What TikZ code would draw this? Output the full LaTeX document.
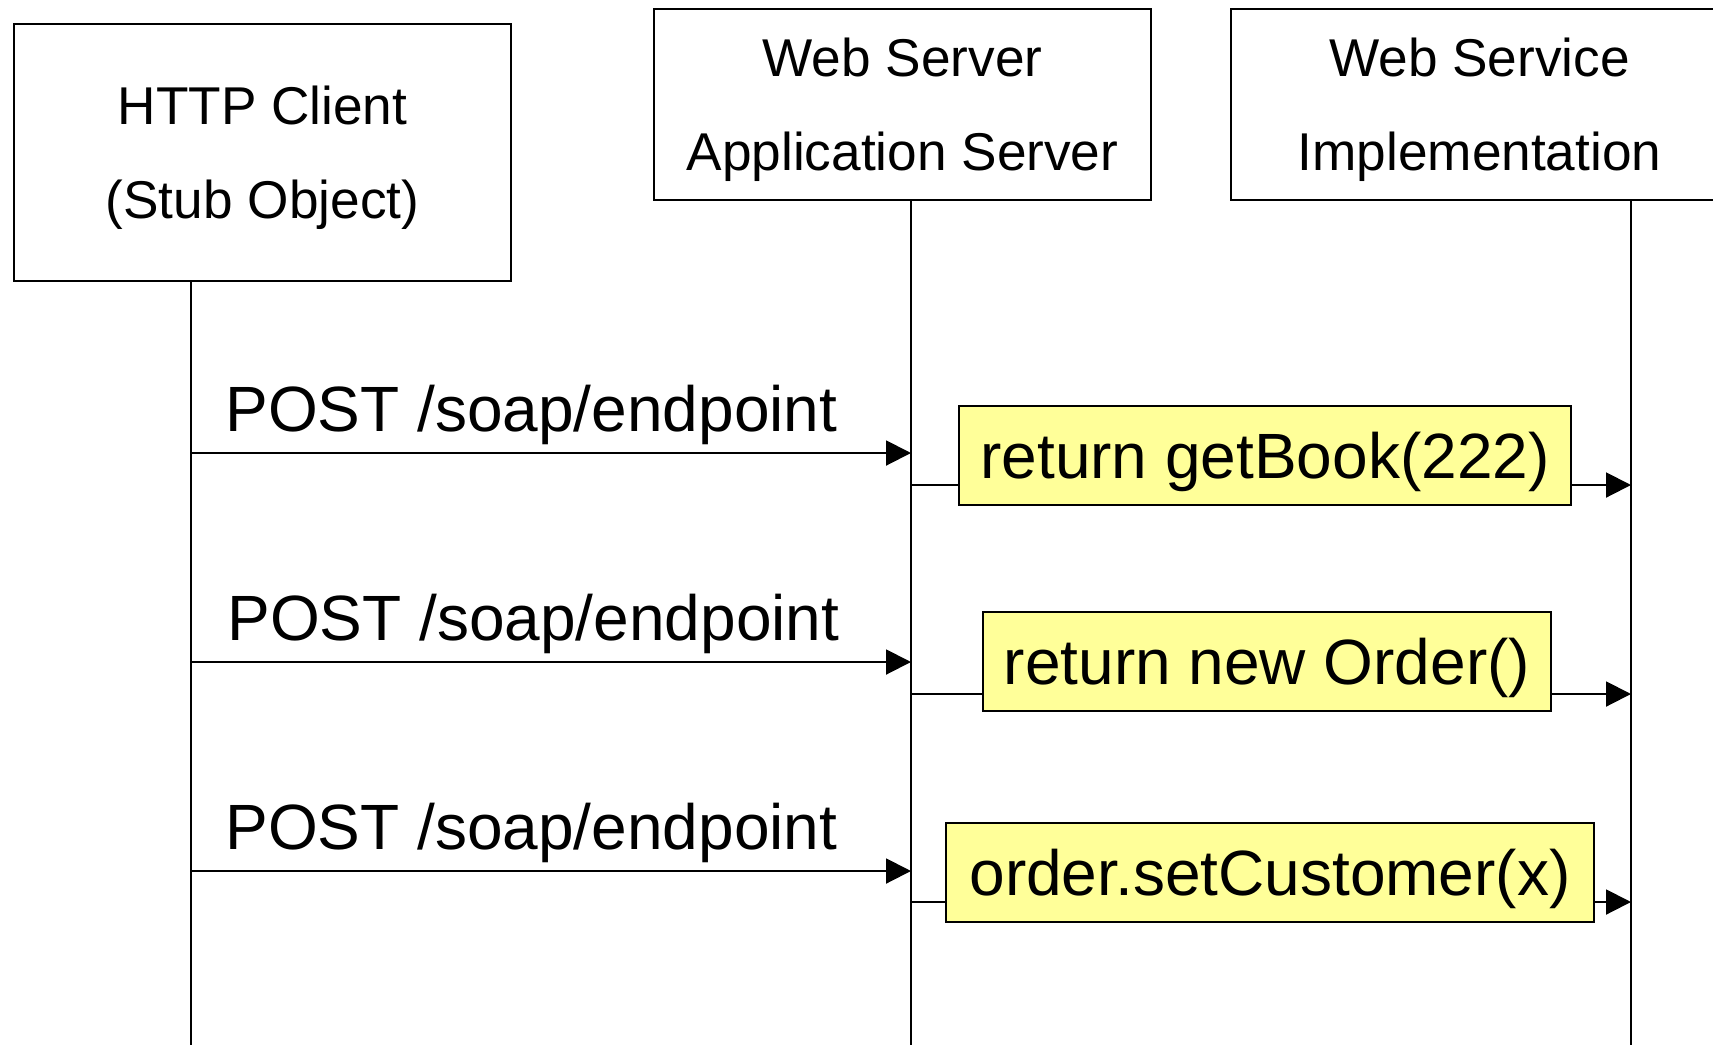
\documentclass[tikz,border=0pt]{standalone}
\usepackage{fontspec}
\setmainfont{Liberation Sans}
\usetikzlibrary{arrows.meta}
\definecolor{notefill}{HTML}{FFFF99}
\begin{document}
\begin{tikzpicture}[x=0.5pt,y=-0.5pt,
  actor/.style={draw, line width=1pt, fill=white, minimum width=248.5pt,
    align=center, inner sep=0pt, text depth=0pt, font=\fontsize{26.6}{47}\selectfont},
  lifeline/.style={line width=1pt},
  msg/.style={line width=1pt, -{Triangle[length=12.5pt,width=12.5pt]}},
  msglabel/.style={anchor=base west, inner sep=0pt, font=\fontsize{32}{38}\selectfont},
  note/.style={draw, line width=1pt, fill=notefill, inner sep=0pt, text depth=0pt,
    minimum height=49.5pt, font=\fontsize{32}{38}\selectfont}]
  \useasboundingbox (0,0) rectangle (1713,1045);

  % participants
  \node[actor, minimum height=128.5pt] (client) at (262.5,152.5) {HTTP Client\\(Stub Object)};
  \node[actor, minimum height=95.5pt] (server) at (902.5,104.5) {Web Server\\Application Server};
  \node[actor, minimum height=95.5pt] (impl) at (1479.5,104.5) {Web Service\\Implementation};

  % lifeline ends
  \coordinate (clientEnd) at (191,1045);
  \coordinate (serverEnd) at (911,1045);
  \coordinate (implEnd) at (1631,1045);
  \draw[lifeline] (client.south -| clientEnd) -- (clientEnd);
  \draw[lifeline] (server.south -| serverEnd) -- (serverEnd);
  \draw[lifeline] (impl.south -| implEnd) -- (implEnd);

  % request points on the lifelines
  \coordinate (c1) at (191,453);  \coordinate (s1) at (911,453);
  \coordinate (c2) at (191,662);  \coordinate (s2) at (911,662);
  \coordinate (c3) at (191,871);  \coordinate (s3) at (911,871);
  % dispatch points on the lifelines
  \coordinate (d1) at (911,485);  \coordinate (i1) at (1631,485);
  \coordinate (d2) at (911,694);  \coordinate (i2) at (1631,694);
  \coordinate (d3) at (911,902);  \coordinate (i3) at (1631,902);

  % HTTP requests
  \draw[msg] (c1) -- (s1);
  \draw[msg] (c2) -- (s2);
  \draw[msg] (c3) -- (s3);
  \node[msglabel] (p1) at (225,431) {POST /soap/endpoint};
  \node[msglabel] (p2) at (227,640) {POST /soap/endpoint};
  \node[msglabel] (p3) at (225,849) {POST /soap/endpoint};

  % dispatched calls
  \draw[msg] (d1) -- (i1);
  \draw[msg] (d2) -- (i2);
  \draw[msg] (d3) -- (i3);
  \node[note, minimum width=306pt] (n1) at (1265,455.5) {return getBook(222)};
  \node[note, minimum width=284pt] (n2) at (1267,661) {return new Order()};
  \node[note, minimum width=324pt] (n3) at (1270,872) {order.setCustomer(x)};
\end{tikzpicture}
\end{document}
